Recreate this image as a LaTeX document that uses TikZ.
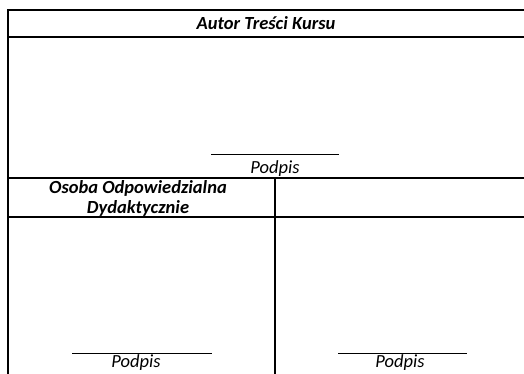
\documentclass[tikz,border=0pt]{standalone}
\usepackage{fontspec}
\setmainfont{Carlito}
\usetikzlibrary{positioning}

\begin{document}
\begin{tikzpicture}[
    x=1pt, y=-1pt,
    frame/.style={line width=2pt},
    sigline/.style={line width=0.9pt},
    every node/.style={inner sep=0pt, font=\fontsize{18.5}{20}\selectfont\itshape},
    title/.style={align=center, font=\fontsize{18.5}{20}\selectfont\bfseries\itshape}
  ]
    \useasboundingbox (0,0) rectangle (524,373);
    \clip (0,0) rectangle (524,373);

    %=== X (columns) ===%
    \def\xl{8}
    \def\xm{275}
    \def\xr{530}

    %=== Y (rows) ===%
    \def\ytop{9.5}
    \def\yhead{37}
    \def\ymid{178}
    \def\ysub{217}
    \def\ybot{380}

    %=== table frame ===%
    \draw[frame] (\xr,\ytop) -- (\xl,\ytop) -- (\xl,\ybot);
    \draw[frame] (\xl,\yhead) -- (\xr,\yhead);
    \draw[frame] (\xl,\ymid) -- (\xr,\ymid);
    \draw[frame] (\xl,\ysub) -- (\xr,\ysub);
    \draw[frame] (\xm,\ymid) -- (\xm,\ybot);

    %=== headers ===%
    \node[title] (autor) at (266,23) {Autor Treści Kursu};
    \node[title] (osoba) at (138,198) {Osoba Odpowiedzialna\\Dydaktycznie};

    %=== signatures ===%
    \node (podpis1) at (275,169) {Podpis};
    \node (podpis2) at (136,363) {Podpis};
    \node (podpis3) at (400,363) {Podpis};

    \coordinate (s1a) at (211,154);
    \coordinate (s1b) at (339,154);
    \coordinate (s2a) at (72,353);
    \coordinate (s2b) at (212,353);
    \coordinate (s3a) at (338,353);
    \coordinate (s3b) at (467,353);

    \draw[sigline] (s1a) -- (s1b);
    \draw[sigline] (s2a) -- (s2b);
    \draw[sigline] (s3a) -- (s3b);

\end{tikzpicture}
\end{document}
